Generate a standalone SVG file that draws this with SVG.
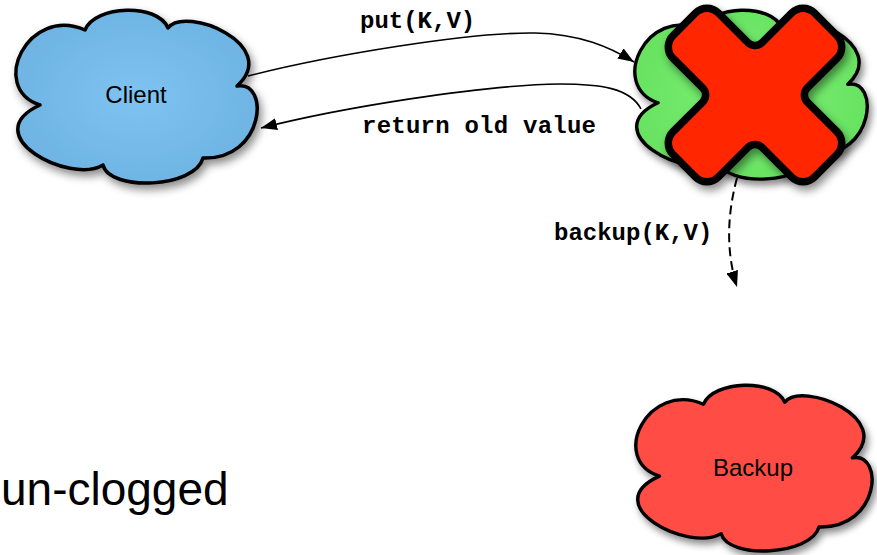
<svg xmlns="http://www.w3.org/2000/svg" width="877" height="555" viewBox="0 0 877 555">
  <defs>
    <style>
      .cloud { stroke: #000; stroke-width: 3.5; stroke-linejoin: round; }
      .lbl { font-family: "Liberation Sans", Arial, Helvetica, sans-serif; font-size: 24px; fill: #000; text-anchor: middle; }
      .code { font-family: "Liberation Mono", "Courier New", monospace; font-weight: bold; font-size: 24px; fill: #000; }
      .edge { fill: none; stroke: #000; stroke-width: 1.6; }
      .dashed { stroke-width: 2; stroke-dasharray: 9 5; }
      .cross { fill: #FF2600; stroke: #000; stroke-width: 7.5; stroke-linejoin: round; }
    </style>
    <!-- shared cloud outline, local box about 243 x 172 -->
    <path id="cloudShape" d="M25,95 C-27,78 13,-5 70,20 C80,-5 143,-7 153,18 C170,-5 267,35 222,76 C255,70 250,150 188,148 C180,178 95,182 88,155 C55,175 -40,125 25,95 Z"/>
    <radialGradient id="gBlue" cx="0.5" cy="0.5" r="0.6">
      <stop offset="0" stop-color="#7EC3F0"/>
      <stop offset="1" stop-color="#6CB2E2"/>
    </radialGradient>
    <radialGradient id="gGreen" cx="0.5" cy="0.5" r="0.6">
      <stop offset="0" stop-color="#7AF073"/>
      <stop offset="1" stop-color="#66E05F"/>
    </radialGradient>
    <filter id="shadow" x="-20%" y="-20%" width="150%" height="150%">
      <feDropShadow dx="3" dy="5" stdDeviation="4" flood-color="#000" flood-opacity="0.45"/>
    </filter>
    <marker id="arrow" markerWidth="16" markerHeight="12" refX="16" refY="6" orient="auto" markerUnits="userSpaceOnUse">
      <path d="M0,0 L16,6 L0,12 Z" fill="#000"/>
    </marker>
  </defs>

  <rect width="877" height="555" fill="#fff"/>

  <g id="client">
    <use href="#cloudShape" class="cloud" fill="url(#gBlue)" filter="url(#shadow)" transform="translate(15,10)"/>
    <text class="lbl" x="136" y="103">Client</text>
  </g>

  <g id="primary">
    <use href="#cloudShape" class="cloud" fill="url(#gGreen)" filter="url(#shadow)" transform="translate(634,10) scale(0.963,0.977)"/>
    <!-- failure mark over the primary -->
    <path class="cross" filter="url(#shadow)" d="M672.97,35.61 L695.61,12.97 A16,16 0 0 1 718.23,12.97 L747.93,42.68 A10,10 0 0 0 762.07,42.68 L791.77,12.97 A16,16 0 0 1 814.39,12.97 L837.03,35.61 A16,16 0 0 1 837.03,58.23 L807.32,87.93 A10,10 0 0 0 807.32,102.07 L837.03,131.77 A16,16 0 0 1 837.03,154.39 L814.39,177.03 A16,16 0 0 1 791.77,177.03 L762.07,147.32 A10,10 0 0 0 747.93,147.32 L718.23,177.03 A16,16 0 0 1 695.61,177.03 L672.97,154.39 A16,16 0 0 1 672.97,131.77 L702.68,102.07 A10,10 0 0 0 702.68,87.93 L672.97,58.23 A16,16 0 0 1 672.97,35.61 Z"/>
  </g>

  <g id="backup">
    <use href="#cloudShape" class="cloud" fill="#FF4D45" filter="url(#shadow)" transform="translate(635,385) scale(0.979,0.959)"/>
    <text class="lbl" x="753" y="476">Backup</text>
  </g>

  <g id="connectors">
    <path class="edge" d="M248,76 C330,55 470,32 535,33 C580,34 610,47 634,62" marker-end="url(#arrow)"/>
    <text class="code" x="360" y="28">put(K,V)</text>
    <path class="edge" d="M641,109 C630,88 600,84 560,84 C480,85 340,108 261,128" marker-end="url(#arrow)"/>
    <text class="code" x="362" y="133" textLength="234">return old value</text>
    <path class="edge dashed" d="M737,178 C727,215 726,252 737,287" marker-end="url(#arrow)"/>
    <text class="code" x="554" y="240">backup(K,V)</text>
  </g>

  <g id="caption">
    <text x="1" y="505" font-family="Liberation Sans, Arial, Helvetica, sans-serif" font-size="46" fill="#000">un-clogged</text>
  </g>
</svg>
